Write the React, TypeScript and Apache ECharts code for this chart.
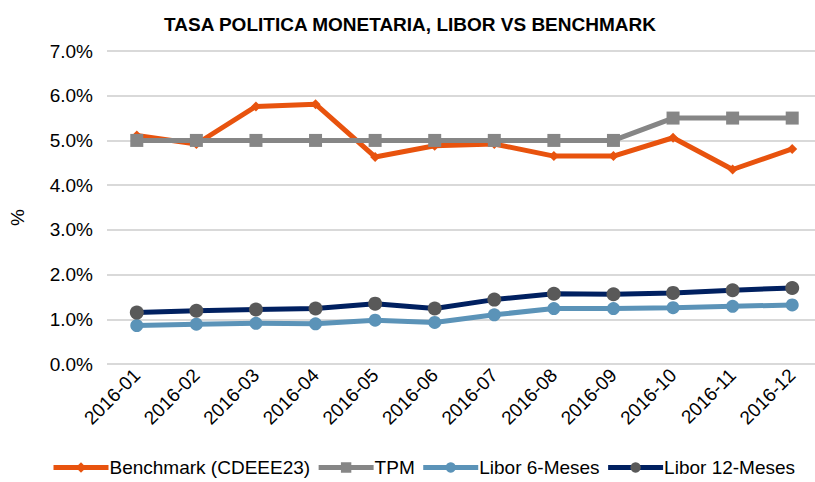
import React, { useEffect, useRef } from "react";
import * as echarts from "echarts";

const categories = ["2016-01","2016-02","2016-03","2016-04","2016-05","2016-06","2016-07","2016-08","2016-09","2016-10","2016-11","2016-12"];
const benchmark = [5.11, 4.92, 5.76, 5.81, 4.63, 4.88, 4.92, 4.65, 4.65, 5.06, 4.35, 4.81];
const tpm = [5.0, 5.0, 5.0, 5.0, 5.0, 5.0, 5.0, 5.0, 5.0, 5.5, 5.5, 5.5];
const libor6 = [0.86, 0.89, 0.91, 0.90, 0.98, 0.93, 1.10, 1.24, 1.24, 1.26, 1.29, 1.32];
const libor12 = [1.15, 1.19, 1.22, 1.24, 1.35, 1.24, 1.44, 1.57, 1.56, 1.59, 1.65, 1.70];
const title = "TASA POLITICA MONETARIA, LIBOR VS BENCHMARK";

export default function App() {
  const ref = useRef<HTMLDivElement>(null);
  useEffect(() => {
    if (!ref.current) return;
    const chart = echarts.init(ref.current, null, { renderer: "svg" });
    const font = "'Liberation Sans', Arial, sans-serif";
    chart.setOption({
      animation: false,
      textStyle: { fontFamily: font },
      title: {
        text: title,
        left: 405,
        textAlign: "center",
        top: 10,
        textStyle: { fontSize: 19, fontWeight: "bold", color: "#000", fontFamily: font },
      },
      grid: { left: 103, top: 51, width: 719, height: 313, containLabel: false },
      xAxis: {
        type: "category",
        data: categories,
        boundaryGap: true,
        axisLine: { show: false },
        axisTick: { show: false },
        axisLabel: { rotate: 45, fontSize: 19, color: "#000", margin: 8, fontFamily: font },
      },
      yAxis: {
        type: "value",
        min: 0,
        max: 7,
        interval: 1,
        name: "%",
        nameLocation: "middle",
        nameRotate: 90,
        nameGap: 80,
        nameTextStyle: { fontSize: 19, color: "#000", fontFamily: font, padding: [0, 20, 0, 0] },
        axisLabel: { formatter: (v: number) => v.toFixed(1) + "%", fontSize: 19, color: "#000", margin: 14, fontFamily: font },
        splitLine: { lineStyle: { color: "#d9d9d9", width: 2 } },
        axisLine: { show: false },
        axisTick: { show: false },
      },
      legend: {
        bottom: 0,
        left: 46,
        itemWidth: 55,
        itemHeight: 13,
        itemGap: 6,
        lineStyle: { width: 5 },
        textStyle: { fontSize: 19, color: "#000", fontFamily: font, padding: [0, 0, 0, -4] },
      },
      series: [
        {
          name: "Benchmark (CDEEE23)",
          type: "line",
          data: benchmark,
          symbol: "diamond",
          symbolSize: 10,
          lineStyle: { color: "#E8530E", width: 5 },
          itemStyle: { color: "#E8530E" },
        },
        {
          name: "TPM",
          type: "line",
          data: tpm,
          symbol: "rect",
          symbolSize: 13,
          lineStyle: { color: "#868686", width: 5 },
          itemStyle: { color: "#868686" },
        },
        {
          name: "Libor 6-Meses",
          type: "line",
          data: libor6,
          symbol: "circle",
          symbolSize: 13,
          lineStyle: { color: "#5B93B8", width: 5 },
          itemStyle: { color: "#5B93B8" },
        },
        {
          name: "Libor 12-Meses",
          type: "line",
          data: libor12,
          symbol: "circle",
          symbolSize: 14,
          lineStyle: { color: "#002060", width: 5 },
          itemStyle: { color: "#595959" },
        },
      ],
    });
    return () => chart.dispose();
  }, []);
  return (
    <div style={{ width: 815, height: 482, position: "absolute", left: 0, top: 0, overflow: "hidden" }}>
      <div ref={ref} style={{ width: 830, height: 482 }} />
    </div>
  );
}
